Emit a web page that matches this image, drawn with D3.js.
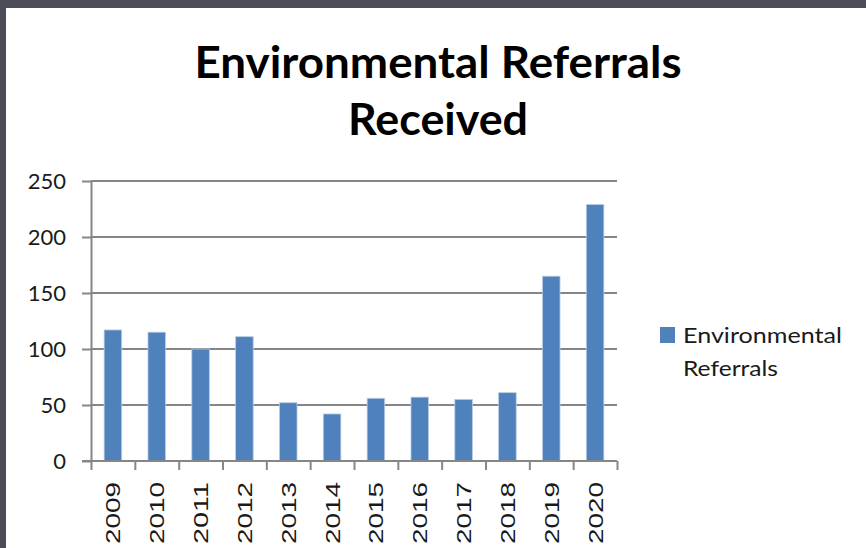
<!DOCTYPE html>
<html>
<head>
<meta charset="utf-8">
<script src="https://cdn.jsdelivr.net/npm/d3@7"></script>
<style>
  body { margin: 0; background: #fff; }
  svg { display: block; }
  .xlabel { font-family: Arial, "Liberation Sans", "DejaVu Sans", sans-serif; }
</style>
</head>
<body>
<div id="chart"></div>
<script>
var width = 866;
var height = 548;

var years = ["2009", "2010", "2011", "2012", "2013", "2014", "2015", "2016", "2017", "2018", "2019", "2020"];
var referrals = [117, 115, 100, 111, 52, 42, 56, 57, 55, 61, 165, 229];
var yTicks = [0, 50, 100, 150, 200, 250];
var titleLines = ["Environmental Referrals", "Received"];
var legendLines = ["Environmental", "Referrals"];

var plotLeft = 91, plotRight = 617, plotTop = 181, plotBottom = 461;
var gridColor = "#868686";
var barColor = "#4f81bd";

var svg = d3.select("#chart")
    .append("svg")
    .attr("width", width)
    .attr("height", height);

// frame edge (top and left) from the screenshot
svg.append("rect").attr("x", 0).attr("y", 0).attr("width", width).attr("height", 8).attr("fill", "#4d4d57");
svg.append("rect").attr("x", 0).attr("y", 0).attr("width", 6).attr("height", height).attr("fill", "#4d4d57");

var x = d3.scaleBand()
    .domain(years)
    .range([plotLeft, plotRight])
    .paddingInner(0.6)
    .paddingOuter(0.3);

var xEdge = d3.scaleLinear()
    .domain([0, years.length])
    .range([plotLeft, plotRight]);

var y = d3.scaleLinear()
    .domain([0, 250])
    .range([plotBottom, plotTop]);

// title
svg.append("g")
    .selectAll("text")
    .data(titleLines)
    .enter()
    .append("text")
    .attr("x", 438)
    .attr("y", function(d, i) { return 78 + i * 57; })
    .attr("text-anchor", "middle")
    .attr("font-family", "Lato, 'Open Sans', sans-serif")
    .attr("font-weight", "bold")
    .attr("font-size", 44)
    .attr("fill", "#000")
    .attr("textLength", function(d, i) { return i == 0 ? 487 : 180; })
    .attr("lengthAdjust", "spacingAndGlyphs")
    .text(function(d) { return d; });

// gridlines
svg.append("g")
    .selectAll("line")
    .data(yTicks.filter(function(d) { return d > 0; }))
    .enter()
    .append("line")
    .attr("x1", plotLeft)
    .attr("x2", plotRight)
    .attr("y1", function(d) { return y(d); })
    .attr("y2", function(d) { return y(d); })
    .attr("stroke", gridColor)
    .attr("stroke-width", 2);

// bars
svg.append("g")
    .selectAll("rect")
    .data(referrals)
    .enter()
    .append("rect")
    .attr("x", function(d, i) { return x(years[i]); })
    .attr("y", function(d) { return y(d); })
    .attr("width", x.bandwidth())
    .attr("height", function(d) { return plotBottom - y(d); })
    .attr("fill", barColor)
    .attr("stroke", "#b8cce4")
    .attr("stroke-width", 0.8);

// y axis
var yAxis = svg.append("g")
    .attr("transform", "translate(" + plotLeft + ",0)")
    .call(d3.axisLeft(y).tickValues(yTicks).tickSize(9).tickPadding(16).tickSizeOuter(0));
yAxis.select(".domain").attr("stroke", gridColor).attr("stroke-width", 2);
yAxis.selectAll(".tick line").attr("stroke", gridColor).attr("stroke-width", 2);
yAxis.selectAll(".tick text")
    .attr("font-family", "Lato, 'Open Sans', sans-serif")
    .attr("font-size", 22)
    .attr("fill", "#1a1a1a");

// x axis line with ticks on category edges
var xAxis = svg.append("g")
    .attr("transform", "translate(0," + plotBottom + ")")
    .call(d3.axisBottom(xEdge).tickValues(d3.range(years.length + 1)).tickSize(9).tickSizeOuter(0).tickFormat(""));
xAxis.select(".domain").attr("stroke", gridColor).attr("stroke-width", 2)
    .attr("d", "M" + (plotLeft - 9) + ",0H" + plotRight);
xAxis.selectAll(".tick line").attr("stroke", gridColor).attr("stroke-width", 2);

// x labels, rotated
svg.append("g")
    .selectAll("text")
    .data(years)
    .enter()
    .append("text")
    .attr("class", "xlabel")
    .attr("transform", function(d) {
        return "translate(" + (x(d) + x.bandwidth() / 2 + 7.5) + ",482) rotate(-90)";
    })
    .attr("text-anchor", "end")
    .attr("font-size", 21)
    .attr("fill", "#1a1a1a")
    .attr("textLength", 62)
    .attr("lengthAdjust", "spacingAndGlyphs")
    .text(function(d) { return d; });

// legend
svg.append("rect")
    .attr("x", 660)
    .attr("y", 327)
    .attr("width", 15)
    .attr("height", 16)
    .attr("fill", barColor);

svg.append("g")
    .selectAll("text")
    .data(legendLines)
    .enter()
    .append("text")
    .attr("x", 683)
    .attr("y", function(d, i) { return 343 + i * 33; })
    .attr("font-family", "Lato, 'Open Sans', sans-serif")
    .attr("font-size", 22)
    .attr("fill", "#1a1a1a")
    .attr("textLength", function(d, i) { return i == 0 ? 159 : 95; })
    .attr("lengthAdjust", "spacingAndGlyphs")
    .text(function(d) { return d; });
</script>
</body>
</html>
